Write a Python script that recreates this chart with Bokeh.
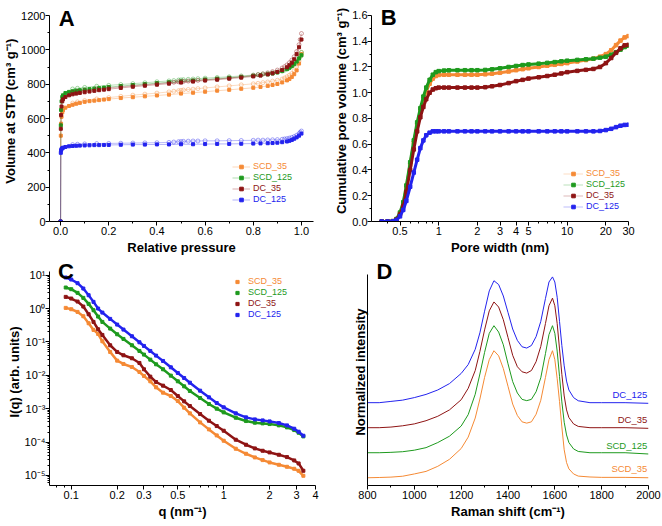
from bokeh.plotting import figure
from bokeh.layouts import row, column
from bokeh.models import FixedTicker, Range1d, Legend, LegendItem, Label
from bokeh.embed import file_html
from bokeh.resources import INLINE
import numpy as np

FONT = "Liberation Sans"
C_SCD35 = "#F58A35"
C_SCD125 = "#1E9A1E"
C_DC35 = "#8E1414"
C_DC125 = "#2323EE"

NAMES = ["SCD_35", "SCD_125", "DC_35", "DC_125"]

# ---------------- Panel A : N2 isotherms ----------------
A_P_ADS = [0.0, 0.001, 0.002, 0.004, 0.007, 0.01, 0.02, 0.035, 0.05, 0.065, 0.08, 0.1,
           0.12, 0.14, 0.16, 0.18, 0.2, 0.25, 0.3, 0.35, 0.4, 0.45, 0.5, 0.55, 0.6, 0.65,
           0.7, 0.75, 0.8, 0.83, 0.86, 0.88, 0.9, 0.92, 0.94, 0.95, 0.96, 0.97, 0.98, 0.99, 1.0]
A_SCD35_ADS = [0, 500, 570, 610, 635, 648, 663, 673, 680, 686, 691, 697, 701, 704, 707, 710,
               713, 719, 724, 729, 734, 739, 745, 750, 756, 762, 767, 773, 779, 784, 790, 795,
               801, 810, 822, 830, 842, 858, 880, 920, 975]
A_SCD125_ADS = [0, 560, 650, 700, 725, 735, 748, 755, 759, 762, 765, 768, 771, 774, 777, 780,
                783, 789, 795, 800, 806, 811, 816, 821, 827, 832, 837, 842, 848, 852, 857, 862,
                868, 876, 888, 896, 906, 918, 932, 950, 968]
A_DC35_ADS = [0, 540, 620, 670, 700, 712, 725, 735, 741, 745, 749, 753, 757, 761, 765, 768,
              771, 778, 785, 791, 797, 803, 809, 815, 821, 826, 832, 838, 845, 850, 857, 863,
              871, 882, 898, 910, 925, 945, 975, 1015, 1060]
A_DC125_ADS = [0, 400, 415, 422, 427, 430, 434, 438, 440, 441, 442, 443, 444, 445, 445, 446,
               446, 447, 448, 448, 449, 449, 450, 450, 451, 452, 452, 453, 454, 455, 456, 457,
               459, 462, 466, 470, 475, 482, 490, 500, 512]

A_P_DES = [1.0, 0.995, 0.99, 0.98, 0.97, 0.96, 0.95, 0.94, 0.93, 0.92, 0.9, 0.88, 0.86, 0.84,
           0.82, 0.8, 0.75, 0.7, 0.65, 0.6, 0.57, 0.55, 0.53, 0.51, 0.5, 0.49, 0.47, 0.45, 0.4,
           0.35, 0.3, 0.25, 0.2, 0.15, 0.1, 0.07, 0.05]
A_SCD35_DES = [985, 960, 935, 900, 878, 862, 852, 843, 836, 830, 823, 818, 813, 809, 805, 802,
               796, 790, 784, 778, 774, 771, 769, 766, 764, 762, 759, 755, 748, 742, 736, 729,
               722, 714, 705, 697, 690]
A_SCD125_DES = [985, 965, 950, 930, 915, 904, 895, 888, 882, 877, 870, 866, 862, 859, 856, 853,
                848, 843, 839, 835, 832, 830, 828, 826, 825, 824, 821, 819, 814, 808, 803, 798,
                793, 788, 781, 776, 772]
A_DC35_DES = [1095, 1060, 1030, 990, 960, 940, 925, 912, 902, 894, 882, 873, 866, 860, 855, 851,
              843, 836, 830, 825, 822, 820, 818, 816, 815, 814, 811, 808, 802, 796, 790, 784,
              778, 771, 763, 757, 752]
A_DC125_DES = [527, 520, 512, 502, 495, 490, 486, 483, 481, 479, 477, 476, 475, 474, 474, 473,
               472, 471, 470, 470, 469, 469, 468, 467, 466, 465, 463, 461, 459, 458, 457, 456,
               455, 454, 452, 450, 448]
A_XTICKS = [0.0, 0.2, 0.4, 0.6, 0.8, 1.0]
A_XLABELS = ["0.0", "0.2", "0.4", "0.6", "0.8", "1.0"]

# ---------------- Panel B : cumulative pore volume ----------------
B_W = [0.36, 0.40, 0.44, 0.47, 0.50, 0.53, 0.56, 0.60, 0.64, 0.68, 0.72, 0.76, 0.80, 0.85,
       0.90, 0.95, 1.0, 1.1, 1.2, 1.4, 1.6, 1.8, 2.0, 2.3, 2.6, 3.0, 3.5, 4.0, 4.5, 5.0, 6.0,
       7.0, 8.0, 9.0, 10, 12, 14, 16, 18, 20, 22, 24, 26, 28, 30]
B_SCD35 = [0, 0, 0.003, 0.018, 0.065, 0.14, 0.26, 0.44, 0.61, 0.75, 0.86, 0.94, 1.01, 1.07,
           1.11, 1.13, 1.138, 1.14, 1.14, 1.14, 1.14, 1.14, 1.14, 1.143, 1.148, 1.155, 1.165,
           1.175, 1.183, 1.19, 1.20, 1.21, 1.217, 1.224, 1.23, 1.243, 1.254, 1.265, 1.28, 1.30,
           1.33, 1.37, 1.405, 1.43, 1.44]
B_SCD125 = [0, 0, 0.003, 0.02, 0.07, 0.15, 0.28, 0.46, 0.63, 0.77, 0.88, 0.97, 1.04, 1.10,
            1.14, 1.16, 1.168, 1.172, 1.174, 1.175, 1.175, 1.175, 1.175, 1.177, 1.182, 1.19,
            1.20, 1.208, 1.215, 1.22, 1.226, 1.232, 1.238, 1.244, 1.249, 1.255, 1.26, 1.265,
            1.272, 1.28, 1.295, 1.315, 1.335, 1.355, 1.365]
B_DC35 = [0, 0, 0.002, 0.015, 0.055, 0.12, 0.23, 0.40, 0.56, 0.70, 0.81, 0.89, 0.95, 1.00,
          1.025, 1.035, 1.04, 1.04, 1.04, 1.04, 1.04, 1.04, 1.04, 1.043, 1.05, 1.06, 1.075,
          1.09, 1.10, 1.11, 1.12, 1.13, 1.14, 1.15, 1.16, 1.17, 1.178, 1.185, 1.20, 1.23, 1.27,
          1.31, 1.345, 1.368, 1.372]
B_DC125 = [0, 0, 0.002, 0.012, 0.04, 0.09, 0.16, 0.27, 0.38, 0.48, 0.57, 0.63, 0.67, 0.69,
           0.70, 0.70, 0.70, 0.70, 0.70, 0.70, 0.70, 0.70, 0.70, 0.70, 0.70, 0.70, 0.70, 0.70,
           0.70, 0.70, 0.70, 0.70, 0.70, 0.70, 0.70, 0.70, 0.70, 0.70, 0.703, 0.71, 0.72,
           0.733, 0.744, 0.75, 0.752]
B_XTICKS = [0.5, 1, 2, 3, 4, 5, 10, 20, 30]
B_XLABELS = ["0.5", "1", "2", "3", "4", "5", "10", "20", "30"]
B_YTICKS = [0.0, 0.2, 0.4, 0.6, 0.8, 1.0, 1.2, 1.4, 1.6]
B_YLABELS = ["0.0", "0.2", "0.4", "0.6", "0.8", "1.0", "1.2", "1.4", "1.6"]

# ---------------- Panel C : SAXS (log10 of intensity) ----------------
C_Q = [0.092, 0.1, 0.11, 0.12, 0.13, 0.14, 0.15, 0.16, 0.18, 0.2, 0.22, 0.25, 0.28, 0.3, 0.33,
       0.36, 0.4, 0.45, 0.5, 0.55, 0.6, 0.7, 0.8, 0.9, 1.0, 1.2, 1.4, 1.6, 1.8, 2.0, 2.3, 2.6,
       2.9, 3.1, 3.33]
C_LOGI_SCD35 = [0.02, -0.02, -0.10, -0.23, -0.44, -0.64, -0.76, -0.98, -1.30, -1.56, -1.66,
                -1.75, -1.90, -2.02, -2.18, -2.36, -2.52, -2.62, -2.77, -2.97, -3.14, -3.41,
                -3.62, -3.80, -3.96, -4.20, -4.35, -4.46, -4.54, -4.61, -4.68, -4.74, -4.80,
                -4.86, -5.01]
C_LOGI_SCD125 = [0.63, 0.58, 0.47, 0.32, 0.14, -0.05, -0.24, -0.40, -0.60, -0.77, -0.91, -1.10,
                 -1.27, -1.38, -1.53, -1.67, -1.82, -2.01, -2.18, -2.33, -2.47, -2.68, -2.86,
                 -3.00, -3.11, -3.27, -3.37, -3.42, -3.44, -3.46, -3.50, -3.56, -3.64, -3.72,
                 -3.83]
C_LOGI_DC35 = [0.35, 0.30, 0.21, 0.06, -0.17, -0.40, -0.62, -0.79, -1.10, -1.30, -1.40, -1.49,
               -1.63, -1.82, -2.04, -2.20, -2.31, -2.44, -2.62, -2.78, -2.92, -3.16, -3.36,
               -3.52, -3.66, -3.93, -4.08, -4.19, -4.26, -4.31, -4.38, -4.45, -4.55, -4.64,
               -4.86]
C_LOGI_DC125 = [0.93, 0.87, 0.76, 0.60, 0.40, 0.20, 0.00, -0.12, -0.31, -0.48, -0.63, -0.83,
                -1.01, -1.12, -1.27, -1.41, -1.57, -1.76, -1.93, -2.08, -2.22, -2.46, -2.66,
                -2.83, -2.96, -3.14, -3.26, -3.32, -3.35, -3.38, -3.43, -3.50, -3.60, -3.69,
                -3.81]
C_XTICKS = [0.1, 0.2, 0.3, 0.5, 1, 2, 3, 4]
C_XLABELS = ["0.1", "0.2", "0.3", "0.5", "1", "2", "3", "4"]
C_YTICKS = [1e-5, 1e-4, 1e-3, 1e-2, 1e-1, 1.0, 10.0]
C_YLABELS = ["10⁻⁵", "10⁻⁴", "10⁻³", "10⁻²", "10⁻¹", "10⁰", "10¹"]

# ---------------- Panel D : Raman ----------------
D_X = [800, 850, 900, 950, 1000, 1050, 1100, 1150, 1200, 1230, 1260, 1280, 1300, 1320, 1340,
       1360, 1380, 1400, 1420, 1440, 1460, 1480, 1500, 1520, 1540, 1560, 1575, 1590, 1600,
       1610, 1620, 1630, 1640, 1650, 1660, 1680, 1700, 1750, 1800, 1900, 2000]
D_SCD35 = [0, 0.002, 0.005, 0.012, 0.03, 0.05, 0.09, 0.145, 0.23, 0.32, 0.47, 0.62, 0.79, 0.93,
           1.0, 0.96, 0.86, 0.72, 0.58, 0.49, 0.44, 0.43, 0.44, 0.50, 0.61, 0.79, 0.93, 1.0,
           0.93, 0.78, 0.60, 0.40, 0.22, 0.12, 0.07, 0.03, 0.013, 0.006, 0.003, 0.003, 0.0]
D_SCD125 = [0, 0, 0.003, 0.008, 0.02, 0.04, 0.08, 0.13, 0.21, 0.30, 0.46, 0.62, 0.79, 0.94,
            1.0, 0.95, 0.85, 0.70, 0.56, 0.47, 0.42, 0.41, 0.42, 0.48, 0.59, 0.78, 0.93, 1.0,
            0.94, 0.80, 0.60, 0.40, 0.24, 0.14, 0.08, 0.03, 0.01, 0.0, 0.0, 0.0, -0.01]
D_DC35 = [0, 0.0, 0.005, 0.015, 0.03, 0.055, 0.09, 0.14, 0.22, 0.31, 0.45, 0.60, 0.77, 0.92,
          0.99, 0.95, 0.85, 0.71, 0.57, 0.48, 0.44, 0.43, 0.45, 0.52, 0.64, 0.82, 0.96, 1.02,
          0.96, 0.82, 0.62, 0.42, 0.25, 0.14, 0.08, 0.03, 0.01, 0.0, 0.0, 0.0, -0.005]
D_DC125 = [0, 0.0, 0.01, 0.02, 0.04, 0.065, 0.10, 0.15, 0.23, 0.30, 0.42, 0.55, 0.72, 0.88,
           0.96, 0.93, 0.84, 0.71, 0.58, 0.49, 0.44, 0.43, 0.45, 0.52, 0.64, 0.82, 0.95, 0.99,
           0.95, 0.83, 0.64, 0.45, 0.29, 0.17, 0.10, 0.04, 0.015, 0.0, 0.0, 0.0, -0.005]
D_STACK = [0.0, 0.197, 0.394, 0.591]

COLORS = [C_SCD35, C_SCD125, C_DC35, C_DC125]


def style(p, xt, xm, yt, ym, xlabel, ylabel, ybounds):
    p.outline_line_color = None
    p.xgrid.visible = False
    p.ygrid.visible = False
    p.background_fill_color = "white"
    p.border_fill_color = "white"
    p.xaxis.ticker = FixedTicker(ticks=xt, minor_ticks=xm)
    p.yaxis.ticker = FixedTicker(ticks=yt, minor_ticks=ym)
    p.yaxis.bounds = ybounds
    for ax in (p.xaxis[0], p.yaxis[0]):
        ax.axis_line_color = "black"
        ax.axis_line_width = 1
        ax.major_tick_in = 0
        ax.major_tick_out = 4
        ax.minor_tick_in = 0
        ax.minor_tick_out = 2
        ax.major_tick_line_color = "black"
        ax.minor_tick_line_color = "black"
        ax.major_label_text_font = FONT
        ax.major_label_text_font_size = "11px"
        ax.major_label_text_color = "black"
        ax.major_label_standoff = 1
        ax.axis_label_text_font = FONT
        ax.axis_label_text_font_size = "13px"
        ax.axis_label_text_font_style = "bold"
        ax.axis_label_text_color = "black"
        ax.axis_label_standoff = 2
    p.yaxis.axis_label_standoff = 0
    p.yaxis.major_label_standoff = 0
    p.xaxis.axis_label = xlabel
    p.yaxis.axis_label = ylabel


def letter(p, x, y, t):
    p.add_layout(Label(x=x, y=y, text=t, text_font=FONT, text_font_size="22px",
                       text_font_style="bold", text_color="black",
                       text_align="left", text_baseline="top"))


def legend(p, rends, label, color, x, y, gw, standoff=3):
    leg = Legend(items=[LegendItem(label=label, renderers=rends)], location=(x, y),
                 glyph_width=gw, glyph_height=9, label_height=9, label_width=10,
                 label_standoff=standoff, padding=0, margin=0, spacing=0,
                 border_line_color=None, background_fill_alpha=0,
                 label_text_font=FONT, label_text_font_size="9px",
                 label_text_color=color)
    p.add_layout(leg)


def fig(**kw):
    return figure(output_backend="svg", toolbar_location=None, **kw)


# ---------- A ----------
pA = fig(width=331, height=258, x_range=Range1d(-0.046, 1.05), y_range=Range1d(0, 1287.4),
         min_border_left=49, min_border_right=18, min_border_top=0, min_border_bottom=37)
style(pA, A_XTICKS, [0.1, 0.3, 0.5, 0.7, 0.9],
      list(range(0, 1201, 200)), list(range(100, 1200, 200)),
      "Relative pressure", "Volume at STP (cm³ g⁻¹)", (0, 1200))
pA.xaxis.major_label_overrides = dict(zip(A_XTICKS, A_XLABELS))
ads = [A_SCD35_ADS, A_SCD125_ADS, A_DC35_ADS, A_DC125_ADS]
des = [A_SCD35_DES, A_SCD125_DES, A_DC35_DES, A_DC125_DES]
legA = []
for name, c, ya, yd in zip(NAMES, COLORS, ads, des):
    pA.line(A_P_DES, yd, line_color=c, line_alpha=0.3, line_width=1)
    pA.scatter(A_P_DES, yd, marker="circle", size=4, fill_color=None,
               line_color=c, line_alpha=0.4, line_width=1)
    la = pA.line(A_P_ADS, ya, line_color=c, line_alpha=0.35, line_width=1)
    sa = pA.scatter(A_P_ADS, ya, marker="square", size=3, fill_color=c, line_color=c)
    legA.append((name, c, [la, sa]))
for i, (name, c, r) in enumerate(legA):
    legend(pA, r, name, c, 183, 50 - 11 * i, 18)
letter(pA, -0.008, 1258, "A")

# ---------- B ----------
pB = fig(width=331, height=258, x_axis_type="log", x_range=Range1d(0.3, 30),
         y_range=Range1d(0, 1.7165),
         min_border_left=36, min_border_right=34, min_border_top=0, min_border_bottom=37)
style(pB, B_XTICKS, [0.4, 0.6, 0.7, 0.8, 0.9, 6, 7, 8, 9],
      B_YTICKS, [0.1, 0.3, 0.5, 0.7, 0.9, 1.1, 1.3, 1.5],
      "Pore width (nm)", "Cumulative pore volume (cm³ g⁻¹)", (0, 1.6))
pB.xaxis.major_label_overrides = dict(zip(B_XTICKS, B_XLABELS))
pB.yaxis.major_label_overrides = dict(zip(B_YTICKS, B_YLABELS))
legB = []
for name, c, yv in zip(NAMES, COLORS, [B_SCD35, B_SCD125, B_DC35, B_DC125]):
    pB.line(B_W, yv, line_color=c, line_width=3)
    ll = pB.line(B_W, yv, line_color=c, line_alpha=0.3, line_width=1)
    ss = pB.scatter(B_W, yv, marker="square", size=3.5, fill_color=c, line_color=c)
    legB.append((name, c, [ll, ss]))
for i, (name, c, r) in enumerate(legB):
    legend(pB, r, name, c, 192, 43 - 11 * i, 20)
letter(pB, 0.354, 1.685, "B")

# ---------- C ----------
pC = fig(width=331, height=268, x_axis_type="log", y_axis_type="log",
         x_range=Range1d(0.072, 4.0), y_range=Range1d(5.0e-6, 31.6),
         min_border_left=49, min_border_right=16, min_border_top=0, min_border_bottom=41)
yminor = [m * d for d in [1e-6, 1e-5, 1e-4, 1e-3, 1e-2, 1e-1, 1.0] for m in range(2, 10)]
style(pC, C_XTICKS, [0.08, 0.09, 0.4, 0.6, 0.7, 0.8, 0.9],
      C_YTICKS, yminor, "q (nm⁻¹)", "I(q) (arb. units)", (5.0e-6, 12.9))
pC.xaxis.major_label_overrides = dict(zip(C_XTICKS, C_XLABELS))
pC.yaxis.major_label_overrides = dict(zip(C_YTICKS, C_YLABELS))
legC = []
for name, c, lg in zip(NAMES, COLORS, [C_LOGI_SCD35, C_LOGI_SCD125, C_LOGI_DC35, C_LOGI_DC125]):
    iv = np.power(10.0, np.array(lg))
    pC.line(C_Q, iv, line_color=c, line_width=2.5)
    sc = pC.scatter(C_Q, iv, marker="square", size=3, fill_color=c, line_color=c)
    legC.append((name, c, [sc]))
for i, (name, c, r) in enumerate(legC):
    legend(pC, r, name, c, 184, 199 - 11 * i, 8, standoff=7)
letter(pC, 0.082, 31.6, "C")

# ---------- D ----------
pD = fig(width=331, height=268, x_range=Range1d(800, 2000), y_range=Range1d(-0.061, 1.726),
         min_border_left=36, min_border_right=14, min_border_top=0, min_border_bottom=41)
style(pD, list(range(800, 2001, 200)), list(range(900, 2000, 200)), [], [],
      "Raman shift (cm⁻¹)", "Normalized intensity", (-0.061, 1.60))
for name, c, yv, off in zip(NAMES, COLORS, [D_SCD35, D_SCD125, D_DC35, D_DC125], D_STACK):
    yy = np.array(yv) + off
    pD.line(D_X, yy, line_color=c, line_width=1)
    pD.add_layout(Label(x=1995, y=yy[-1] + 0.07, text=name, text_font=FONT,
                        text_font_size="9.5px", text_color=c, text_align="right",
                        text_baseline="middle"))
letter(pD, 838, 1.726, "D")

layout = column(row(pA, pB), row(pC, pD))
open("out.html", "w").write(file_html(layout, INLINE))
